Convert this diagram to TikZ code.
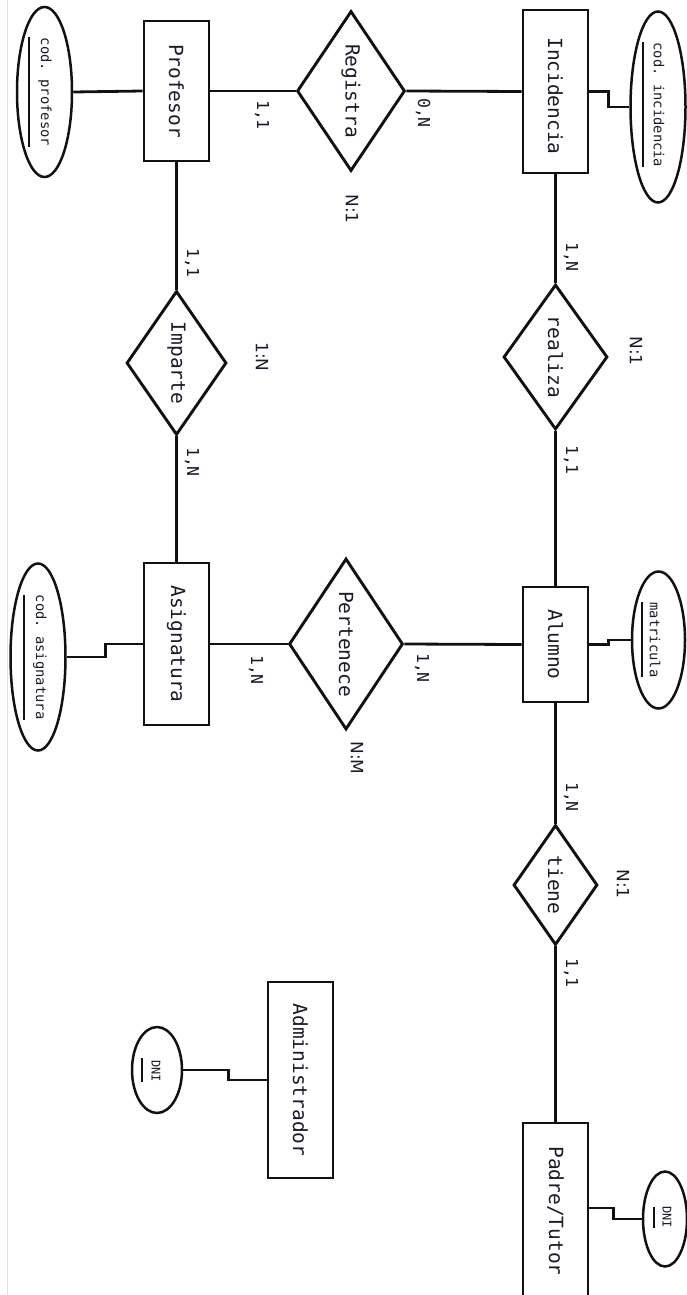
\documentclass[tikz,border=0pt]{standalone}
\usepackage{graphicx}
\usepackage{fontspec}
\setmainfont{DejaVu Sans}
\setmonofont{DejaVu Sans Mono}
\usetikzlibrary{shapes.geometric}
\definecolor{ink}{HTML}{111111}
\definecolor{txtc}{HTML}{1A1A28}
\newcommand{\vt}[2]{\rotatebox{-90}{\fontsize{#1}{#1}\selectfont #2}}
\tikzset{
  ent/.style={draw=ink, line width=2.9pt, rectangle, inner sep=0pt},
  rel/.style={draw=ink, line width=2.9pt, diamond, inner sep=0pt},
  att/.style={draw=ink, line width=2.5pt, ellipse, inner sep=0pt},
  conn/.style={draw=ink, line width=2.8pt},
  keybar/.style={draw=ink, line width=2.4pt},
  mono/.style={inner sep=0pt, text=txtc, font=\ttfamily},
  sans/.style={inner sep=0pt, text=txtc, font=\rmfamily},
}
\begin{document}
\begin{tikzpicture}[x=1pt,y=-1pt]
\useasboundingbox (0,0) rectangle (686,1295);
\fill[white] (0,0) rectangle (686,1295);
\draw[gray!25, line width=0.8pt] (7,0) -- (7,1295);

% ---------- shapes ----------
\node[att, minimum width=55pt, minimum height=170pt] (codprof) at (44.5,92) {};
\node[ent, minimum width=65pt, minimum height=140pt] (profesor) at (176.5,91) {};
\node[rel, minimum width=108pt, minimum height=160pt] (registra) at (351,91) {};
\node[ent, minimum width=65pt, minimum height=163pt] (incidencia) at (555.5,91.5) {};
\node[att, minimum width=55pt, minimum height=191pt] (codinc) at (658,107) {};

\node[rel, minimum width=100pt, minimum height=144pt] (imparte) at (176.5,363) {};
\node[rel, minimum width=104pt, minimum height=145pt] (realiza) at (555.5,357) {};

\node[att, minimum width=55pt, minimum height=187pt] (codasig) at (38,657) {};
\node[ent, minimum width=65pt, minimum height=162pt] (asignatura) at (176.5,644) {};
\node[rel, minimum width=114pt, minimum height=171pt] (pertenece) at (346,644) {};
\node[ent, minimum width=65pt, minimum height=115pt] (alumno) at (555.5,644.5) {};
\node[att, minimum width=53pt, minimum height=137pt] (matricula) at (658.5,640) {};

\node[rel, minimum width=84pt, minimum height=120pt] (tiene) at (555.5,885) {};
\node[ent, minimum width=65pt, minimum height=196pt] (admin) at (300.5,1080) {};
\node[att, minimum width=50pt, minimum height=86pt] (admindni) at (157,1070) {};
\node[ent, minimum width=65pt, minimum height=190pt] (padre) at (555.5,1218) {};
\node[att, minimum width=44pt, minimum height=95pt] (padredni) at (665,1219) {};

% ---------- connectors ----------
\draw[conn] (codprof.east) -- (profesor.west);
\draw[conn] (profesor.east) -- (registra.west);
\draw[conn] (registra.east) -- (incidencia.west);
\draw[conn] (incidencia.east) -- ++(19,0) |- (codinc.west);
\draw[conn] (profesor.south) -- (imparte.north);
\draw[conn] (imparte.south) -- (asignatura.north);
\draw[conn] (incidencia.south) -- (realiza.north);
\draw[conn] (realiza.south) -- (alumno.north);
\draw[conn] (asignatura.west) -- ++(-37,0) |- (codasig.east);
\draw[conn] (asignatura.east) -- (pertenece.west);
\draw[conn] (pertenece.east) -- (alumno.west);
\draw[conn] (alumno.east) -- ++(19,0) |- (matricula.west);
\draw[conn] (alumno.south) -- (tiene.north);
\draw[conn] (tiene.south) -- (padre.north);
\draw[conn] ([yshift=10pt]padre.east) -- ++(24,0) |- (padredni.west);
\draw[conn] (admindni.east) -- ++(45,0) |- (admin.west);

% ---------- key underlines ----------
\draw[keybar] (29,37) -- (29,147);
\draw[keybar] (643,42) -- (643,167);
\draw[keybar] (24,595) -- (24,720);
\draw[keybar] (642,602) -- (642,677);
\draw[keybar] (142,1058) -- (142,1082);
\draw[keybar] (654,1207) -- (654,1228);

% ---------- names ----------
\node[mono] (tprofesor) at (176.5,91) {\vt{19.5}{Profesor}};
\node[mono] (tregistra) at (registra) {\vt{19.5}{Registra}};
\node[mono] (tincidencia) at (555.5,96) {\vt{19.5}{Incidencia}};
\node[mono] (timparte) at (imparte) {\vt{19.5}{Imparte}};
\node[mono] (trealiza) at (realiza) {\vt{19.5}{realiza}};
\node[mono] (tasignatura) at (asignatura) {\vt{19.5}{Asignatura}};
\node[mono] (tpertenece) at (pertenece) {\vt{19.5}{Pertenece}};
\node[mono] (talumno) at (alumno) {\vt{19.5}{Alumno}};
\node[mono] (ttiene) at (tiene) {\vt{19.5}{tiene}};
\node[mono] (tadmin) at (admin) {\vt{19.5}{Administrador}};
\node[mono] (tpadre) at (555.5,1211) {\vt{19.5}{Padre/Tutor}};

% ---------- attributes ----------
\node[mono] (tcodprof) at (45,92) {\vt{13.8}{cod. profesor}};
\node[mono] (tcodinc) at (659,105) {\vt{13.8}{cod. incidencia}};
\node[mono] (tcodasig) at (40,657) {\vt{13.8}{cod. asignatura}};
\node[mono] (tmatricula) at (655,640) {\vt{13.8}{matricula}};
\node[mono] (tadmindni) at (156,1071) {\vt{12}{DNI}};
\node[mono] (tpadredni) at (667,1217) {\vt{12}{DNI}};

% ---------- cardinalities ----------
\node[mono] (c1) at (262,115) {\vt{16.5}{1,1}};
\node[mono] (c2) at (423,113) {\vt{16.5}{0,N}};
\node[sans] (r1) at (352,209) {\vt{17}{N:1}};
\node[mono] (c3) at (192,263) {\vt{16.5}{1,1}};
\node[sans] (r2) at (262,357) {\vt{17}{1:N}};
\node[mono] (c4) at (192,462) {\vt{16.5}{1,N}};
\node[mono] (c5) at (571,257) {\vt{16.5}{1,N}};
\node[sans] (r3) at (636,351) {\vt{17}{N:1}};
\node[mono] (c6) at (571,460) {\vt{16.5}{1,1}};
\node[mono] (c7) at (256,670) {\vt{16.5}{1,N}};
\node[mono] (c8) at (422,668) {\vt{16.5}{1,N}};
\node[sans] (r4) at (357,758) {\vt{17}{N:M}};
\node[mono] (c9) at (571,797) {\vt{16.5}{1,N}};
\node[sans] (r5) at (623,884) {\vt{17}{N:1}};
\node[mono] (c10) at (571,973) {\vt{16.5}{1,1}};
\end{tikzpicture}
\end{document}
